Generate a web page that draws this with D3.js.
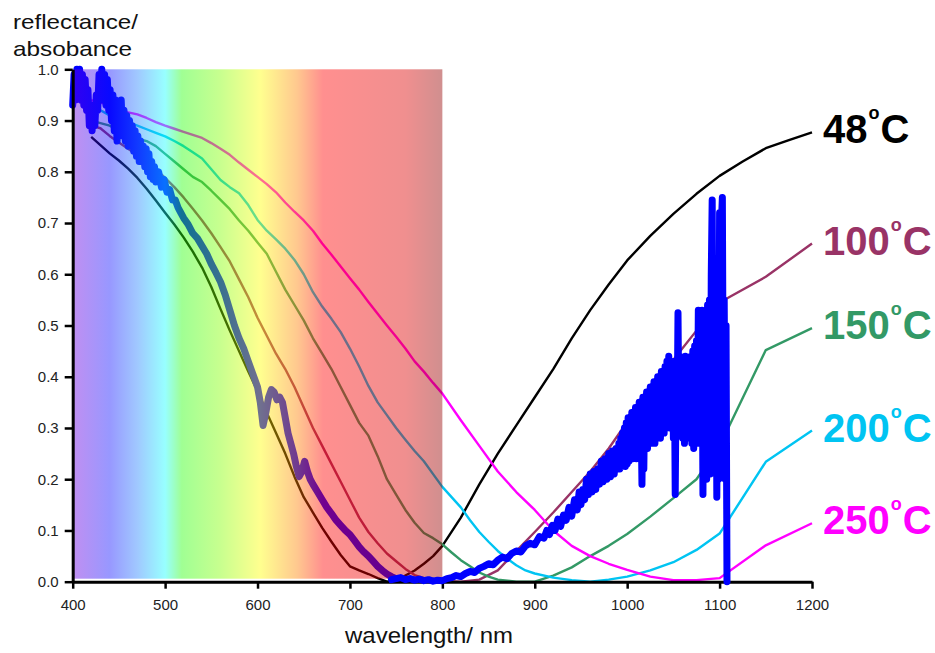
<!DOCTYPE html>
<html><head><meta charset="utf-8">
<script src="https://cdn.jsdelivr.net/npm/d3@7"></script>
<style>
body{margin:0;background:#fff;}
svg{display:block;font-family:"Liberation Sans",Arial,Helvetica,sans-serif;}
</style>
</head><body>
<svg id="chart" width="935" height="653"></svg>
<script>
// ---------- data ----------
const xTicks = [400,500,600,700,800,900,1000,1100,1200];
const yTicks = [0,0.1,0.2,0.3,0.4,0.5,0.6,0.7,0.8,0.9,1.0];

const seriesNames  = ["48","100","150","200","250"];
const seriesColors = ["#000000","#993366","#339966","#00c4f2","#ff00ff"];

const wl48 = [420,430,440,450,460,470,480,490,500,510,520,530,540,550,560,570,580,590,600,610,620,630,640,650,660,670,680,690,700,710,720,730,740,750,760,770,780,790,800,820,840,860,880,900,920,940,960,980,1000,1025,1050,1075,1100,1125,1150,1175,1200];
const r48  = [0.868,0.852,0.836,0.822,0.806,0.788,0.767,0.744,0.72,0.697,0.672,0.644,0.613,0.575,0.532,0.49,0.45,0.41,0.372,0.33,0.29,0.25,0.205,0.165,0.135,0.105,0.078,0.052,0.03,0.022,0.015,0.007,0.0,0.002,0.012,0.022,0.035,0.05,0.07,0.125,0.19,0.25,0.305,0.36,0.415,0.475,0.53,0.58,0.627,0.675,0.718,0.757,0.792,0.82,0.846,0.862,0.877];

const wl100 = [420,430,440,450,460,470,480,490,500,510,520,530,540,550,560,570,580,590,600,610,620,630,640,650,660,670,680,690,700,710,720,730,740,750,760,770,780,800,820,840,860,880,900,920,940,960,980,1000,1025,1050,1075,1100,1150,1200];
const r100  = [0.89,0.885,0.87,0.857,0.845,0.832,0.82,0.805,0.788,0.77,0.75,0.728,0.705,0.68,0.653,0.625,0.59,0.555,0.515,0.48,0.445,0.415,0.38,0.34,0.3,0.265,0.23,0.195,0.16,0.125,0.097,0.075,0.055,0.04,0.025,0.013,0.007,0.002,0.0,0.004,0.022,0.06,0.097,0.135,0.175,0.215,0.26,0.312,0.37,0.433,0.49,0.545,0.595,0.66];

const wl150 = [420,430,440,450,460,470,480,490,500,510,520,530,540,550,560,570,580,590,600,610,620,630,640,650,660,670,680,690,700,710,720,730,740,750,760,770,780,790,800,810,820,830,840,850,860,880,900,920,940,960,980,1000,1025,1050,1075,1100,1150,1200];
const r150  = [0.9,0.895,0.89,0.88,0.87,0.865,0.86,0.85,0.835,0.82,0.805,0.79,0.78,0.763,0.745,0.727,0.705,0.685,0.662,0.64,0.605,0.57,0.54,0.51,0.475,0.445,0.415,0.38,0.345,0.31,0.285,0.245,0.2,0.17,0.14,0.115,0.095,0.085,0.073,0.057,0.042,0.03,0.018,0.01,0.004,0.0,0.0,0.012,0.028,0.05,0.07,0.093,0.127,0.163,0.2,0.265,0.452,0.495];

const wl200 = [420,430,440,450,460,470,480,490,500,510,520,530,540,550,560,570,580,590,600,610,620,630,640,650,660,670,680,690,700,710,720,730,740,750,760,770,780,790,800,810,820,830,840,850,860,870,880,890,900,920,940,960,980,1000,1025,1050,1075,1100,1150,1200];
const r200  = [0.93,0.92,0.91,0.903,0.897,0.89,0.883,0.876,0.869,0.86,0.85,0.838,0.826,0.805,0.784,0.77,0.758,0.735,0.706,0.685,0.668,0.65,0.628,0.6,0.565,0.537,0.513,0.487,0.455,0.42,0.382,0.35,0.325,0.3,0.277,0.255,0.235,0.21,0.185,0.165,0.145,0.12,0.097,0.078,0.06,0.045,0.032,0.022,0.016,0.008,0.003,0.0,0.004,0.01,0.022,0.038,0.062,0.094,0.234,0.295];

const wl250 = [420,440,450,460,470,480,490,500,510,520,530,540,550,560,570,580,590,600,610,620,630,640,650,660,670,680,690,700,710,720,730,740,750,760,770,780,790,800,820,840,860,880,900,920,940,960,980,1000,1025,1050,1075,1100,1150,1200];
const r250  = [0.94,0.93,0.922,0.916,0.912,0.905,0.897,0.89,0.884,0.878,0.872,0.866,0.856,0.845,0.833,0.818,0.804,0.79,0.776,0.76,0.74,0.722,0.705,0.685,0.66,0.638,0.615,0.592,0.57,0.546,0.523,0.5,0.478,0.455,0.43,0.41,0.388,0.367,0.315,0.265,0.215,0.175,0.14,0.1,0.07,0.05,0.035,0.023,0.01,0.003,0.003,0.007,0.071,0.114];

// thick blue measured spectrum, visible part (under the colour band)
const wlBlueVis = [400,401.5,403,404.5,406,407.5,409,410.5,412,413.5,415,416.5,418,419.5,421,422.5,424,425.5,427,428.5,430,431.5,433,434.5,436,437.5,439,440.5,442,443.5,445,446.5,448,449.5,451,452.5,454,455.5,457,458.5,460,461.5,463,464.5,466,467.5,469,470.5,472,473.5,475,476.5,478,479.5,481,482.5,484,485.5,487,488.5,490,493,496,499,502,505,508,511,514,517,520,525,530,535,540,545,550,555,560,565,570,575,580,585,590,595,600,603,606,609,612,615,618,621,624,627,630,633,636,639,642,645,648,651,654,657,660,665,670,675,680,685,690,695,700,705,710,715,720,725,730,735,740,745,750];
const rBlueVis  = [0.93,0.99,0.94,1.0,0.95,1.0,0.94,0.99,0.93,0.98,0.92,0.96,0.89,0.93,0.88,0.92,0.89,0.95,0.92,0.99,0.95,1.0,0.94,0.99,0.93,0.98,0.92,0.96,0.9,0.95,0.88,0.94,0.86,0.93,0.87,0.94,0.87,0.92,0.86,0.91,0.85,0.9,0.85,0.89,0.84,0.88,0.83,0.87,0.82,0.86,0.82,0.85,0.81,0.845,0.8,0.835,0.79,0.82,0.785,0.81,0.78,0.8,0.77,0.785,0.76,0.765,0.745,0.745,0.73,0.72,0.71,0.697,0.68,0.67,0.655,0.64,0.62,0.603,0.585,0.56,0.53,0.5,0.475,0.455,0.43,0.405,0.38,0.35,0.305,0.33,0.36,0.375,0.37,0.355,0.36,0.35,0.32,0.29,0.27,0.25,0.225,0.205,0.215,0.235,0.215,0.2,0.19,0.175,0.16,0.145,0.133,0.12,0.11,0.1,0.092,0.08,0.068,0.058,0.05,0.04,0.03,0.022,0.015,0.01,0.006];

// thick blue measured spectrum, near-infrared part
const wlBlueNir = [745,750,755,760,765,770,775,780,785,790,795,800,805,810,815,820,825,830,835,840,845,850,855,860,865,870,875,880,885,890,895,900,905,910,913,916,919,922,925,928,931,934,937,940,943,946,948,950,952,954,956,958,960,962,964,966,968,970,972,974,976,978,980,982,984,986,988,990,
  991,992,993,994,995,996,997,998,999,1000,1001,1002,1003,1004,1005,1006,1007,1008,1009,1010,1011,1012,1013,1014,1015,1016,1017,1018,1019,1020,1021,1022,1023,1024,1025,1026,1027,1028,1029,1030,1031,1032,1033,1034,1035,1036,1037,1038,1039,1040,1041,1042,1043,1044,1045,1046,1047,1048,1049,1050,1051,1052,1053,1054,1055,1056,1057,1058,1059,1060,1061,1062,1063,1064,1065,1066,1067,1068,1069,1070,1071,1072,1073,1074,1075,1076,1077,1078,1079,1080,1081,1082,1083,1084,1085,1086,1087,1088,1089,1090,1091,1092,1093,1094,1095,1096,1097,1098,1099,1100,1101,1102,1103,1104,1105,1106,1107,1108];
const rBlueNir  = [0.004,0.006,0.008,0.004,0.006,0.003,0.005,0.002,0.004,0.001,0.003,0.002,0.006,0.008,0.012,0.01,0.016,0.02,0.018,0.026,0.03,0.035,0.033,0.042,0.048,0.045,0.055,0.06,0.058,0.07,0.075,0.072,0.088,0.085,0.1,0.092,0.11,0.1,0.122,0.108,0.13,0.12,0.145,0.128,0.16,0.14,0.175,0.15,0.18,0.16,0.2,0.17,0.21,0.175,0.215,0.18,0.22,0.19,0.235,0.195,0.24,0.2,0.25,0.205,0.255,0.21,0.26,0.22,
  0.27,0.22,0.28,0.225,0.29,0.23,0.3,0.225,0.31,0.23,0.32,0.235,0.31,0.24,0.33,0.24,0.32,0.25,0.34,0.24,0.33,0.25,0.35,0.26,0.34,0.19,0.36,0.22,0.36,0.26,0.37,0.26,0.36,0.27,0.38,0.27,0.37,0.28,0.39,0.27,0.38,0.28,0.4,0.29,0.39,0.28,0.41,0.3,0.4,0.29,0.42,0.3,0.43,0.31,0.44,0.3,0.43,0.32,0.42,0.28,0.43,0.17,0.4,0.3,0.525,0.3,0.44,0.29,0.43,0.28,0.42,0.27,0.44,0.28,0.43,0.3,0.436,0.29,0.44,0.27,0.45,0.26,0.46,0.28,0.47,0.27,0.53,0.3,0.52,0.28,0.53,0.17,0.5,0.22,0.52,0.2,0.54,0.22,0.55,0.21,0.6,0.745,0.3,0.58,0.22,0.6,0.165,0.55,0.2,0.72,0.25,0.7,0.75,0.3,0.55,0.2,0.5,0.0];

// colour band (wavelength -> colour)
const bandWl     = [400,440,470,500,518,560,603,643,671,760,800];
const bandColors = ["#7000e0","#1414ff","#2782ff","#14ffff","#27ff0b","#82ff00","#ffff00","#ff8200","#ff0000","#dd0000","#940000"];

// ---------- chart ----------
const svg = d3.select("#chart");
const x = d3.scaleLinear().domain([400,1200]).range([72.7,812]);
const y = d3.scaleLinear().domain([0,1]).range([581.7,69.3]);

const line = d3.line().x(d=>x(d[0])).y(d=>y(d[1]));
const zip = (a,b)=>a.map((v,i)=>[v,b[i]]);

const thin = [zip(wl48,r48),zip(wl100,r100),zip(wl150,r150),zip(wl200,r200),zip(wl250,r250)];

const gCurves = svg.append("g");
gCurves.selectAll("path.thin").data(thin).join("path")
  .attr("class","thin")
  .attr("d",line)
  .attr("fill","none")
  .attr("stroke",(d,i)=>seriesColors[i])
  .attr("stroke-width",2.4)
  .attr("stroke-linejoin","round");

gCurves.append("path")
  .attr("d",line(zip(wlBlueVis,rBlueVis)))
  .attr("fill","none").attr("stroke","#0000ff")
  .attr("stroke-width",7).attr("stroke-linejoin","round").attr("stroke-linecap","round");

// colour band overlay
const defs = svg.append("defs");
const grad = defs.append("linearGradient").attr("id","band")
  .attr("x1","0").attr("x2","1").attr("y1","0").attr("y2","0");
grad.selectAll("stop").data(bandWl).join("stop")
  .attr("offset",d=>(d-400)/400)
  .attr("stop-color",(d,i)=>bandColors[i]);

svg.append("rect")
  .attr("x",x(400)).attr("width",x(800)-x(400))
  .attr("y",y(1)).attr("height",y(0)-y(1)-3)
  .attr("fill","url(#band)").attr("opacity",0.44);

// axes
const gx = svg.append("g").attr("transform",`translate(0,${y(0)})`)
  .call(d3.axisBottom(x).tickValues(xTicks).tickSize(7).tickSizeOuter(0).tickPadding(11).tickFormat(d3.format("d")));
const gy = svg.append("g").attr("transform",`translate(${x(400)},0)`)
  .call(d3.axisLeft(y).tickValues(yTicks).tickSize(8).tickSizeOuter(0).tickPadding(6).tickFormat(d3.format(".1f")));
[gx,gy].forEach(g=>{
  g.select(".domain").attr("stroke","#000").attr("stroke-width",3);
  g.selectAll(".tick line").attr("stroke","#000").attr("stroke-width",2.5);
  g.selectAll(".tick text").attr("fill","#222").style("font-size","15px")
   .style("font-family",'"Liberation Sans",Arial,sans-serif');
});

// NIR blue spectrum on top
svg.append("path")
  .attr("d",line(zip(wlBlueNir,rBlueNir)))
  .attr("fill","none").attr("stroke","#0000ff")
  .attr("stroke-width",7).attr("stroke-linejoin","round").attr("stroke-linecap","round");

// axis titles
svg.append("text").attr("x",13).attr("y",29).text("reflectance/")
  .style("font-size","21px").attr("fill","#111")
  .attr("textLength",125).attr("lengthAdjust","spacingAndGlyphs");
svg.append("text").attr("x",13).attr("y",56).text("absobance")
  .style("font-size","21px").attr("fill","#111")
  .attr("textLength",119).attr("lengthAdjust","spacingAndGlyphs");
svg.append("text").attr("x",345).attr("y",643).text("wavelength/ nm")
  .style("font-size","22px").attr("fill","#111")
  .attr("textLength",168).attr("lengthAdjust","spacingAndGlyphs");

// series labels
thin.forEach((s,i)=>{
  const last = s[s.length-1];
  const t = svg.append("text")
    .attr("x",x(last[0])+11).attr("y",y(last[1])+11)
    .attr("fill",seriesColors[i]).style("font-weight","bold").style("font-size","40px");
  t.append("tspan").text(seriesNames[i]);
  t.append("tspan").text("o").style("font-size","18px").attr("dy",-24).attr("dx",1);
  t.append("tspan").text("C").attr("dy",24).attr("dx",1);
});
</script>
</body></html>
